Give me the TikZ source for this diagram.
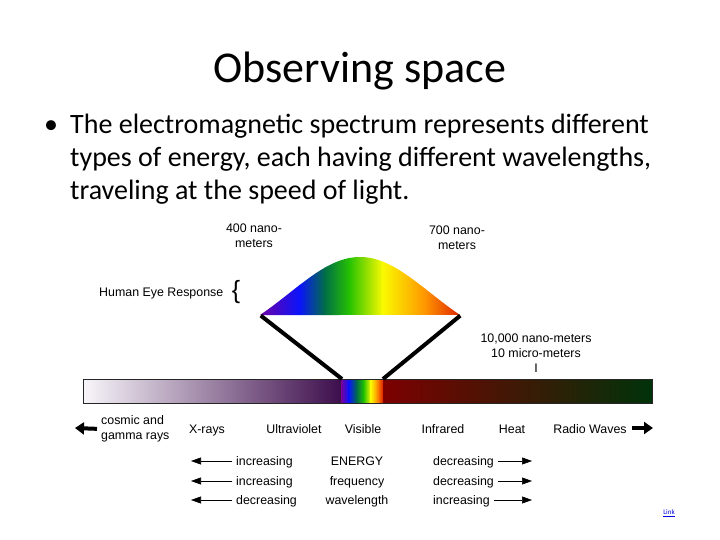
\documentclass[tikz,border=0pt]{standalone}
\usepackage{fontspec}
\setmainfont{Carlito}
\newfontfamily\diagfont{Liberation Sans}
\usetikzlibrary{arrows.meta}
\definecolor{eyeviolet}{RGB}{112,0,165}
\definecolor{eyeblue}{RGB}{10,20,250}
\definecolor{eyeteal}{RGB}{0,110,70}
\definecolor{eyegreen}{RGB}{40,195,0}
\definecolor{eyeyellow}{RGB}{250,250,0}
\definecolor{eyeorange}{RGB}{255,150,0}
\definecolor{eyered}{RGB}{220,30,0}
\definecolor{uvlight}{RGB}{248,246,250}
\definecolor{uvdark}{RGB}{60,12,75}
\definecolor{irred}{RGB}{125,0,0}
\definecolor{irgreen}{RGB}{0,50,10}
\definecolor{linkblue}{RGB}{0,0,220}

\begin{document}
\begin{tikzpicture}
[x=1pt, y=-1pt, every node/.style={color=black, inner sep=0pt},
 lbl/.style={font=\diagfont\fontsize{12.4}{15}\selectfont, align=center},
 body/.style={anchor=base west, font=\fontsize{28}{33}\selectfont},
 thinarrow/.style={-{Triangle[length=10pt, width=7pt]}, semithick},
 bigarrow/.style={-{Triangle[length=9pt, width=12pt]}, line width=4pt}]
\useasboundingbox (0,0) rectangle (720,540);
    \coordinate (b0) at (260,315);
    \coordinate (b1) at (461,315);
    \coordinate (v0) at (342,379);
    \coordinate (v1) at (383,379);
    \coordinate (s0) at (83,379);
    \coordinate (s1) at (652,403);
    % title and bullet
    \node[anchor=base, font=\fontsize{44}{53}\selectfont] (title) at (360,83) {Observing space};
    \node[body] (bul) at (44,134) {•};
    \node[body] (line1) at (70,134) {The electromagnetic spectrum represents different};
    \node[body] (line2) at (70,167) {types of energy, each having different wavelengths,};
    \node[body] (line3) at (70,200) {traveling at the speed of light.};
    % eye response curve
    \begin{scope}
        \clip plot[domain=-100:100, samples=60] ({360+\x},{315-58*(exp(-(\x)*(\x)/10000)-0.3679)/0.6321}) -- cycle;
        \foreach \xa/\xb/\ca/\cb in {259/300/eyeviolet/eyeblue, 300/325/eyeblue/eyeteal,
                325/350/eyeteal/eyegreen, 350/383/eyegreen/eyeyellow,
                383/425/eyeyellow/eyeorange, 425/462/eyeorange/eyered}
            \shade[left color=\ca, right color=\cb] ({\xa-0.5},250) rectangle (\xb,316);
    \end{scope}
    % spectrum bar
    \shade[left color=uvlight, right color=uvdark] (s0) rectangle (343,403);
    \shade[left color=irred, right color=irgreen] (382,379) rectangle (s1);
    \foreach \xa/\xb/\ca/\cb in {342/349/eyeviolet/eyeblue, 349/357/eyeblue/eyeteal,
            357/364/eyeteal/eyegreen, 364/371/eyegreen/eyeyellow,
            371/377/eyeyellow/eyeorange, 377/383/eyeorange/eyered}
        \shade[left color=\ca, right color=\cb] ({\xa-0.3},379) rectangle (\xb,403);
    \draw[black!85, thin] (s0) rectangle (s1);
    % lines from curve to band
    \draw[line width=4pt, shorten <=1pt] (b0) -- (v0);
    \draw[line width=4pt, shorten <=1pt] (b1) -- (v1);
    % labels above
    \node[lbl] (nm400) at (254,236) {400 nano-\\meters};
    \node[lbl] (nm700) at (457,238) {700 nano-\\meters};
    \node[lbl, anchor=base west] (eye) at (99,296.5) {Human Eye Response};
    \node[font=\diagfont\fontsize{25}{25}\selectfont] (brace) at (236,292) {\{};
    \node[lbl] (micro) at (536,353) {10,000 nano-meters\\10 micro-meters\\I};
    % labels below
    \coordinate (gammaend) at (75,428);
    \coordinate (radioend) at (653,428);
    \node[lbl, align=left, anchor=west] (cosmic) at (101,429) {cosmic and\\gamma rays};
    \node[lbl, anchor=base] (xray) at (207,433.5) {X-rays};
    \node[lbl, anchor=base] (uv) at (294,433.5) {Ultraviolet};
    \node[lbl, anchor=base] (vis) at (363,433.5) {Visible};
    \node[lbl, anchor=base] (ir) at (443,433.5) {Infrared};
    \node[lbl, anchor=base] (heat) at (512,433.5) {Heat};
    \node[lbl, anchor=base] (radio) at (590,433.5) {Radio Waves};
    \draw[bigarrow, shorten <=4pt] (cosmic.west) -- (gammaend);
    \draw[bigarrow, shorten <=5pt] (radio.east |- radioend) -- (radioend);
    % energy rows
    \foreach \y/\l/\m/\r [count=\i] in {461/increasing/ENERGY/decreasing,
            481/increasing/frequency/decreasing, 500/decreasing/wavelength/increasing} {
        \node[lbl, anchor=base west] (lw\i) at (236,\y+4.5) {\l};
        \node[lbl, anchor=base] (mw\i) at (357,\y+4.5) {\m};
        \node[lbl, anchor=base west] (rw\i) at (433,\y+4.5) {\r};
        \coordinate (la\i) at (191,\y);
        \coordinate (ra\i) at (532,\y);
        \draw[thinarrow, shorten <=4pt] (lw\i.west |- la\i) -- (la\i);
        \draw[thinarrow, shorten <=4pt] (rw\i.east |- ra\i) -- (ra\i);
    }
    \node[font=\fontsize{7}{8}\selectfont, text=linkblue] (link) at (669,513) {\underline{Link}};
\end{tikzpicture}
\end{document}
